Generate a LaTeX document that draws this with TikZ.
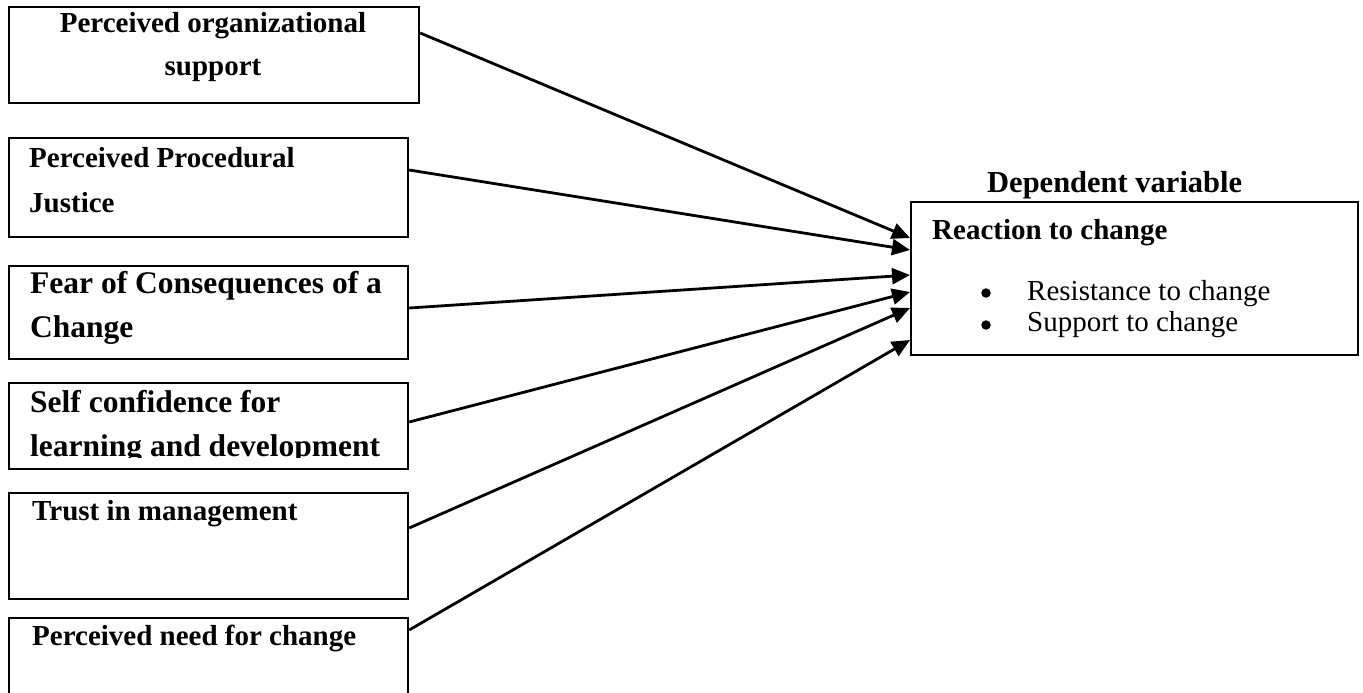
\documentclass[tikz,border=0pt]{standalone}
\usepackage{fontspec}
\setmainfont{Liberation Serif}
\usetikzlibrary{arrows.meta,calc}
\tikzset{
  box/.style={draw, line width=2.2pt, inner sep=0pt, anchor=north west},
  lbl/.style={inner sep=0pt, anchor=base west, font=\bfseries\fontsize{29}{34}\selectfont},
  biglbl/.style={inner sep=0pt, anchor=base west, font=\bfseries\fontsize{31.5}{36}\selectfont},
  reg/.style={inner sep=0pt, anchor=base west, font=\fontsize{29}{34}\selectfont},
  bullet/.style={circle, fill=black, inner sep=0pt, minimum size=9.5pt},
  conn/.style={line width=2.8pt, -{Triangle[length=18pt,width=16pt]}}
}
\begin{document}
\begin{tikzpicture}[x=1pt,y=-1pt]
\clip (0,0) rectangle (1363,693);
\fill[white] (0,0) rectangle (1363,693);
% left boxes
\node[box, minimum width=410pt, minimum height=96pt] (b1) at (8,6) {};
\node[box, minimum width=399pt, minimum height=99pt] (b2) at (8,137) {};
\node[box, minimum width=399pt, minimum height=93pt] (b3) at (8,265) {};
\node[box, minimum width=399pt, minimum height=86pt] (b4) at (8,382) {};
\node[box, minimum width=399pt, minimum height=106pt] (b5) at (8,492) {};
\node[box, minimum width=399pt, minimum height=110pt] (b6) at (8,617) {};
% right box
\node[box, minimum width=447pt, minimum height=153pt] (dv) at (910,201) {};
% texts
\node[lbl, anchor=base] (t1a) at (213,33) {Perceived organizational};
\node[lbl, anchor=base] (t1b) at (213,76) {support};
\node[lbl] (t2a) at (29,167) {Perceived Procedural};
\node[lbl] (t2b) at (29,212) {Justice};
\node[biglbl] (t3a) at (30,293) {Fear of Consequences of a};
\node[biglbl] (t3b) at (30,337) {Change};
\begin{scope}
\clip (10,384) rectangle (405,457);
\node[biglbl] (t4a) at (30,412) {Self confidence for};
\node[biglbl] (t4b) at (30,456) {learning and development};
\end{scope}
\node[lbl] (t5) at (32,520) {Trust in management};
\node[lbl] (t6) at (32,645) {Perceived need for change};
\node[inner sep=0pt, anchor=base west, font=\bfseries\fontsize{30.5}{35}\selectfont] (title) at (987,192) {Dependent variable};
\node[lbl] (r0) at (932,239) {Reaction to change};
\node[bullet] (bul1) at (986,293) {};
\node[reg] (r1) at (1027,300) {Resistance to change};
\node[bullet] (bul2) at (986,325) {};
\node[reg] (r2) at (1027,331) {Support to change};
% connector ends
\coordinate (s1) at ($(b1.north east)+(0,27)$);
\coordinate (s2) at ($(b2.north east)+(0,33)$);
\coordinate (s3) at ($(b3.north east)+(0,43)$);
\coordinate (s4) at ($(b4.north east)+(0,40)$);
\coordinate (s5) at ($(b5.north east)+(0,36)$);
\coordinate (s6) at ($(b6.north east)+(0,13)$);
\coordinate (e1) at ($(dv.north west)+(0,37)$);
\coordinate (e2) at ($(dv.north west)+(0,49)$);
\coordinate (e3) at ($(dv.north west)+(0,74)$);
\coordinate (e4) at ($(dv.north west)+(0,91)$);
\coordinate (e5) at ($(dv.north west)+(0,107)$);
\coordinate (e6) at ($(dv.north west)+(0,139)$);
\draw[conn] (s1) -- (e1);
\draw[conn] (s2) -- (e2);
\draw[conn] (s3) -- (e3);
\draw[conn] (s4) -- (e4);
\draw[conn] (s5) -- (e5);
\draw[conn] (s6) -- (e6);
\end{tikzpicture}
\end{document}
